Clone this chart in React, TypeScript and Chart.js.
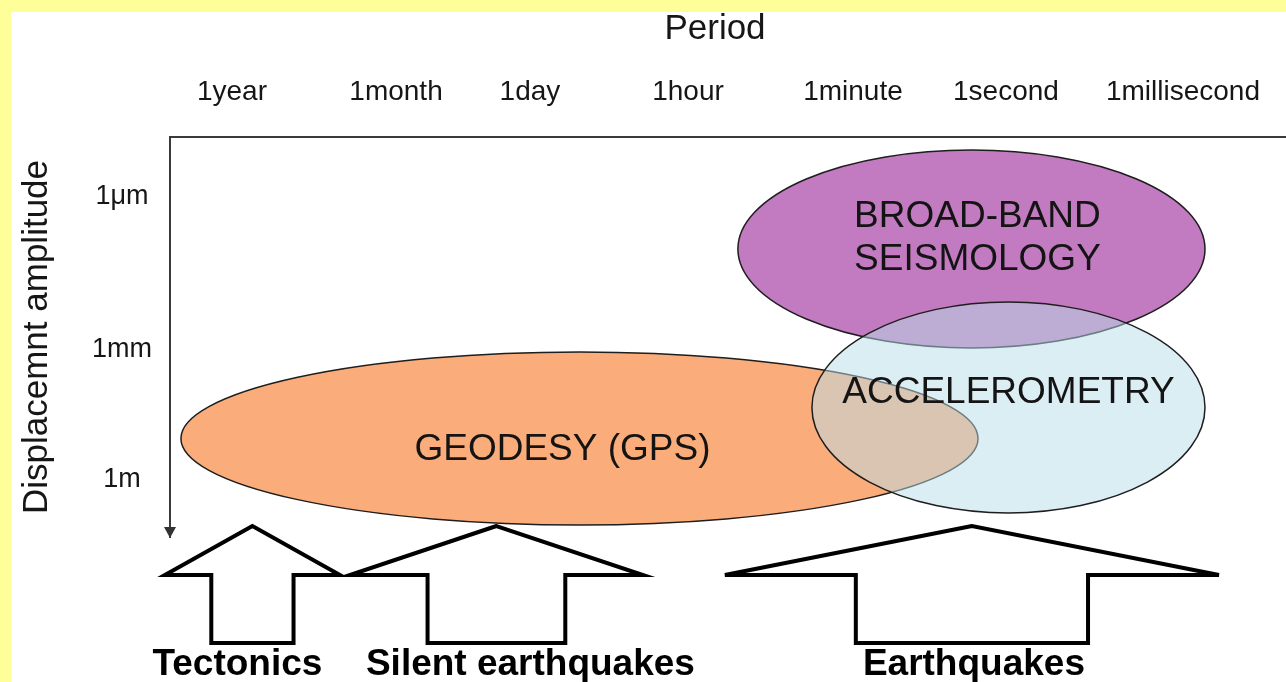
import React, { useEffect, useRef } from 'react';
import { Chart, registerables } from 'chart.js';

Chart.register(...registerables);

// ---- data ----
const periodLabels = ['1year', '1month', '1day', '1hour', '1minute', '1second', '1millisecond'];
const periodTickPos = [0, 1.035, 1.88, 2.877, 3.918, 4.883, 6];
const amplitudeLabels = ['1μm', '1mm', '1m'];
const amplitudeTickPos = [0, 1.081, 2];

const methodLabels = [['GEODESY (GPS)'], ['BROAD-BAND', 'SEISMOLOGY'], ['ACCELEROMETRY']];
const methodPeriodFrom = [-0.322, 3.192, 3.659];
const methodPeriodTo = [4.707, 6.139, 6.139];
const methodAmpFrom = [1.095, -0.332, 0.742];
const methodAmpTo = [2.318, 1.067, 2.233];

const phenomenonNames = ['Tectonics', 'Silent earthquakes', 'Earthquakes'];
const phenomenonPeriodFrom = [-0.423, 0.744, 3.11];
const phenomenonPeriodTo = [0.681, 2.593, 6.227];

// ---- styles ----
const FONT = '"Liberation Sans", Arial, Helvetica, sans-serif';
const methodStyles = [
  { fill: 'rgb(250,173,122)', dx: -17, dy: 11 },
  { fill: 'rgb(194,122,192)', dx: 6, dy: -11 },
  { fill: 'rgba(183,221,231,0.5)', dx: 0, dy: -15 },
];
const phenomenonLabelDx = [-15, 34, 2];
const AXIS_COLOR = '#3a3a3a';

const diagramPlugin = {
  id: 'diagram',
  beforeDatasetsDraw(chart: any) {
    const { ctx, scales } = chart;
    const x = scales.x;
    const y = scales.y;
    methodLabels.forEach((_, i) => {
      const x1 = x.getPixelForValue(methodPeriodFrom[i]);
      const x2 = x.getPixelForValue(methodPeriodTo[i]);
      const y1 = y.getPixelForValue(methodAmpFrom[i]);
      const y2 = y.getPixelForValue(methodAmpTo[i]);
      ctx.save();
      ctx.beginPath();
      ctx.ellipse((x1 + x2) / 2, (y1 + y2) / 2, Math.abs(x2 - x1) / 2, Math.abs(y2 - y1) / 2, 0, 0, Math.PI * 2);
      ctx.fillStyle = methodStyles[i].fill;
      ctx.fill();
      ctx.lineWidth = 1.5;
      ctx.strokeStyle = '#1e1e1e';
      ctx.stroke();
      ctx.restore();
    });
    methodLabels.forEach((lines, i) => {
      const cx = (x.getPixelForValue(methodPeriodFrom[i]) + x.getPixelForValue(methodPeriodTo[i])) / 2 + methodStyles[i].dx;
      const cy = (y.getPixelForValue(methodAmpFrom[i]) + y.getPixelForValue(methodAmpTo[i])) / 2 + methodStyles[i].dy;
      ctx.save();
      ctx.font = `37px ${FONT}`;
      ctx.fillStyle = '#141414';
      ctx.textAlign = 'center';
      ctx.textBaseline = 'middle';
      const lh = 43;
      lines.forEach((t, k) => {
        ctx.fillText(t, cx, cy + (k - (lines.length - 1) / 2) * lh);
      });
      ctx.restore();
    });
  },
  afterDraw(chart: any) {
    const { ctx, chartArea, scales } = chart;
    const x = scales.x;
    const base = chartArea.bottom;
    ctx.save();
    // period axis line continues to the right edge
    ctx.strokeStyle = AXIS_COLOR;
    ctx.lineWidth = 2;
    ctx.beginPath();
    ctx.moveTo(chartArea.right, chartArea.top);
    ctx.lineTo(chart.width, chartArea.top);
    ctx.stroke();
    // arrowhead on amplitude axis
    ctx.fillStyle = '#333';
    ctx.beginPath();
    ctx.moveTo(chartArea.left, base + 1);
    ctx.lineTo(chartArea.left - 6, base - 10);
    ctx.lineTo(chartArea.left + 6, base - 10);
    ctx.closePath();
    ctx.fill();
    ctx.restore();

    phenomenonNames.forEach((name, i) => {
      const xl = x.getPixelForValue(phenomenonPeriodFrom[i]);
      const xr = x.getPixelForValue(phenomenonPeriodTo[i]);
      const cx = (xl + xr) / 2;
      const shaftHalf = ((xr - xl) / 2) * 0.47;
      const tipY = base - 11;
      const wingY = base + 38;
      const shaftY = base + 106;
      ctx.save();
      ctx.beginPath();
      ctx.moveTo(cx, tipY);
      ctx.lineTo(xl, wingY);
      ctx.lineTo(cx - shaftHalf, wingY);
      ctx.lineTo(cx - shaftHalf, shaftY);
      ctx.lineTo(cx + shaftHalf, shaftY);
      ctx.lineTo(cx + shaftHalf, wingY);
      ctx.lineTo(xr, wingY);
      ctx.closePath();
      ctx.lineWidth = 4;
      ctx.lineJoin = 'miter';
      ctx.strokeStyle = '#000';
      ctx.stroke();
      ctx.font = `bold 37px ${FONT}`;
      ctx.fillStyle = '#000';
      ctx.textAlign = 'center';
      ctx.textBaseline = 'alphabetic';
      ctx.fillText(name, cx + phenomenonLabelDx[i], base + 138);
      ctx.restore();
    });
  },
};

export default function App() {
  const canvasRef = useRef<HTMLCanvasElement | null>(null);

  useEffect(() => {
    if (!canvasRef.current) return;
    const chart = new Chart(canvasRef.current, {
      type: 'scatter',
      data: { datasets: [] },
      plugins: [diagramPlugin],
      options: {
        animation: false,
        responsive: true,
        maintainAspectRatio: false,
        layout: { padding: { left: 0, right: 26, top: 0, bottom: 145 } },
        plugins: { legend: { display: false }, tooltip: { enabled: false } },
        scales: {
          x: {
            type: 'linear',
            position: 'top',
            min: -0.391,
            max: 6.486,
            afterBuildTicks: (axis: any) => {
              axis.ticks = periodTickPos.map((v) => ({ value: v }));
            },
            afterFit: (scale: any) => {
              scale.height = 125;
              scale.paddingLeft = 0;
              scale.paddingRight = 0;
            },
            grid: { display: false, drawTicks: false },
            border: { display: true, color: AXIS_COLOR, width: 2 },
            ticks: {
              autoSkip: false,
              maxRotation: 0,
              minRotation: 0,
              padding: 28,
              color: '#161616',
              font: { family: FONT, size: 28 },
              callback: (_v: any, i: number) => periodLabels[i],
            },
            title: {
              display: true,
              text: 'Period',
              color: '#161616',
              font: { family: FONT, size: 35, lineHeight: 1 },
              padding: { top: 0, bottom: 0 },
            },
          },
          y: {
            type: 'linear',
            position: 'left',
            reverse: true,
            min: -0.424,
            max: 2.403,
            afterBuildTicks: (axis: any) => {
              axis.ticks = amplitudeTickPos.map((v) => ({ value: v }));
            },
            afterFit: (scale: any) => {
              scale.width = 159;
              scale.paddingTop = 0;
              scale.paddingBottom = 0;
            },
            grid: { display: false, drawTicks: false },
            border: { display: true, color: AXIS_COLOR, width: 2 },
            ticks: {
              autoSkip: false,
              crossAlign: 'center',
              padding: 18,
              color: '#161616',
              font: { family: FONT, size: 27 },
              callback: (_v: any, i: number) => amplitudeLabels[i],
            },
            title: {
              display: true,
              text: 'Displacemnt amplitude',
              color: '#161616',
              font: { family: FONT, size: 35, lineHeight: 1 },
              padding: { top: 9, bottom: 0 },
            },
          },
        },
      } as any,
    });
    return () => chart.destroy();
  }, []);

  return (
    <div style={{ position: 'fixed', inset: 0, background: '#FFFF99' }}>
      <div style={{ position: 'absolute', left: 11, top: 12, width: 1275, height: 670, background: '#ffffff' }}>
        <canvas ref={canvasRef} style={{ display: 'block' }} />
      </div>
    </div>
  );
}
